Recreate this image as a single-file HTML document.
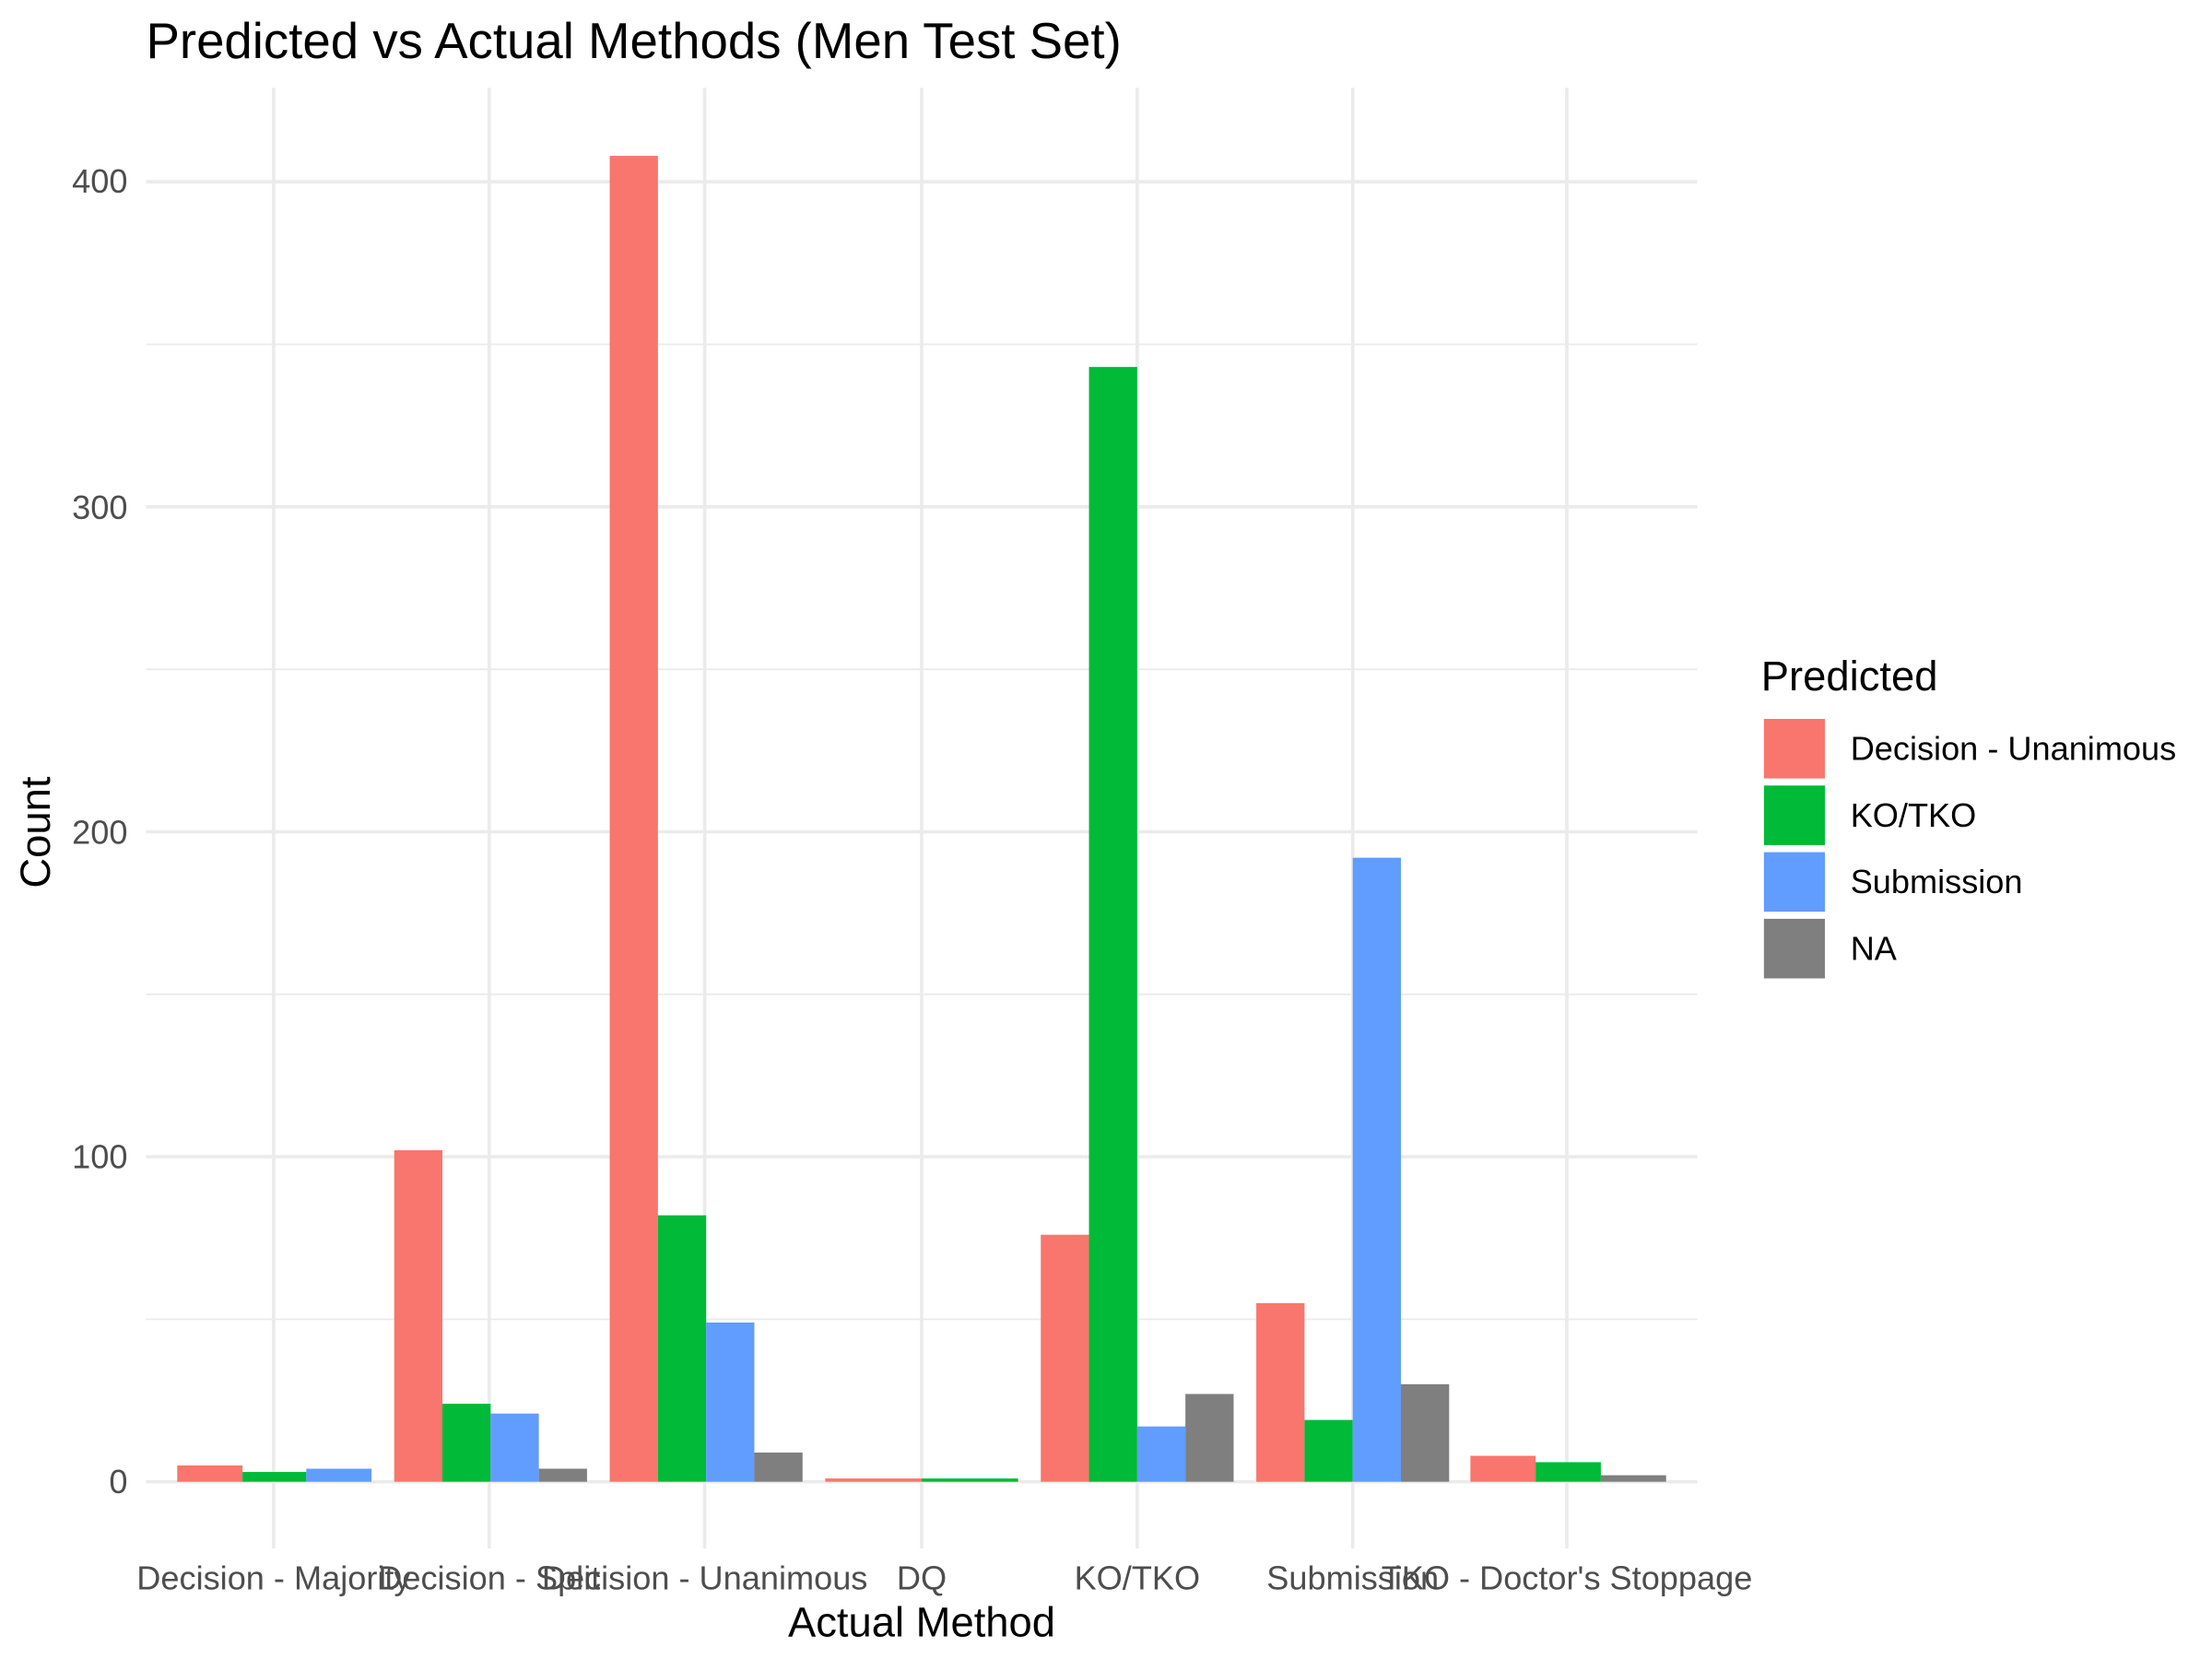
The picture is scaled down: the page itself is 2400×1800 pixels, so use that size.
<!DOCTYPE html>
<html><head><style>html,body{margin:0;padding:0;background:#fff}svg{display:block}</style></head><body>
<svg width="2400" height="1800" viewBox="0 0 1560 1170" xmlns="http://www.w3.org/2000/svg" font-family="Liberation Sans, Arial, sans-serif">
<rect width="1560" height="1170" fill="#fff"/>
<g stroke="#ebebeb">
<g stroke-width="1.2">
<line x1="103" x2="1197" y1="930.4" y2="930.4"/><line x1="103" x2="1197" y1="701.2" y2="701.2"/><line x1="103" x2="1197" y1="472" y2="472"/><line x1="103" x2="1197" y1="242.8" y2="242.8"/>
</g>
<g stroke-width="2.4">
<line x1="103" x2="1197" y1="1045" y2="1045"/><line x1="103" x2="1197" y1="815.8" y2="815.8"/><line x1="103" x2="1197" y1="586.6" y2="586.6"/><line x1="103" x2="1197" y1="357.4" y2="357.4"/><line x1="103" x2="1197" y1="128.2" y2="128.2"/>
<line x1="193" x2="193" y1="62" y2="1092"/><line x1="345" x2="345" y1="62" y2="1092"/><line x1="497" x2="497" y1="62" y2="1092"/><line x1="650" x2="650" y1="62" y2="1092"/><line x1="802" x2="802" y1="62" y2="1092"/><line x1="954" x2="954" y1="62" y2="1092"/><line x1="1105" x2="1105" y1="62" y2="1092"/>
</g></g>
<g>
<rect x="125" y="1033.5" width="46" height="11.5" fill="#F8766D"/>
<rect x="171" y="1038.1" width="45" height="6.9" fill="#00BA38"/>
<rect x="216" y="1035.8" width="46" height="9.2" fill="#619CFF"/>

<rect x="278" y="811.2" width="34" height="233.8" fill="#F8766D"/>
<rect x="312" y="990" width="34" height="55" fill="#00BA38"/>
<rect x="346" y="996.9" width="34" height="48.1" fill="#619CFF"/>
<rect x="380" y="1035.8" width="34" height="9.2" fill="#7F7F7F"/>

<rect x="430" y="109.9" width="34" height="935.1" fill="#F8766D"/>
<rect x="464" y="857.1" width="34" height="187.9" fill="#00BA38"/>
<rect x="498" y="932.7" width="34" height="112.3" fill="#619CFF"/>
<rect x="532" y="1024.4" width="34" height="20.6" fill="#7F7F7F"/>

<rect x="582" y="1042.7" width="68" height="2.3" fill="#F8766D"/>
<rect x="650" y="1042.7" width="68" height="2.3" fill="#00BA38"/>

<rect x="734" y="870.8" width="34" height="174.2" fill="#F8766D"/>
<rect x="768" y="258.8" width="34" height="786.2" fill="#00BA38"/>
<rect x="802" y="1006" width="34" height="39" fill="#619CFF"/>
<rect x="836" y="983.1" width="34" height="61.9" fill="#7F7F7F"/>

<rect x="886" y="919" width="34" height="126" fill="#F8766D"/>
<rect x="920" y="1001.4" width="34" height="43.6" fill="#00BA38"/>
<rect x="954" y="604.9" width="34" height="440.1" fill="#619CFF"/>
<rect x="988" y="976.2" width="34" height="68.8" fill="#7F7F7F"/>

<rect x="1037" y="1026.7" width="46" height="18.3" fill="#F8766D"/>
<rect x="1083" y="1031.2" width="46" height="13.8" fill="#00BA38"/>
<rect x="1129" y="1040.4" width="46" height="4.6" fill="#7F7F7F"/>
</g>
<g fill="#4d4d4d" font-size="23.5" text-anchor="end">
<text x="90" y="1053">0</text><text x="90" y="824">100</text><text x="90" y="595">200</text><text x="90" y="366">300</text><text x="90" y="136">400</text>
</g>
<g fill="#4d4d4d" font-size="23.5" text-anchor="middle">
<text x="193" y="1121">Decision - Majority</text><text x="345" y="1121">Decision - Split</text><text x="497" y="1121">Decision - Unanimous</text><text x="650" y="1121">DQ</text><text x="802" y="1121">KO/TKO</text><text x="954" y="1121">Submission</text><text x="1105" y="1121">TKO - Doctor's Stoppage</text>
</g>
<text x="650" y="1154" font-size="29.5" text-anchor="middle">Actual Method</text>
<text transform="translate(35,587) rotate(-90)" font-size="29.5" text-anchor="middle">Count</text>
<text x="103" y="41" font-size="35.5">Predicted vs Actual Methods (Men Test Set)</text>
<text x="1242" y="487" font-size="29.5">Predicted</text>
<rect x="1244" y="507" width="43" height="42" fill="#F8766D"/>
<rect x="1244" y="554" width="43" height="42" fill="#00BA38"/>
<rect x="1244" y="601" width="43" height="42" fill="#619CFF"/>
<rect x="1244" y="648" width="43" height="42" fill="#7F7F7F"/>
<g font-size="23.5">
<text x="1305" y="536">Decision - Unanimous</text><text x="1305" y="583">KO/TKO</text><text x="1305" y="630">Submission</text><text x="1305" y="677">NA</text>
</g>
</svg>
</body></html>
